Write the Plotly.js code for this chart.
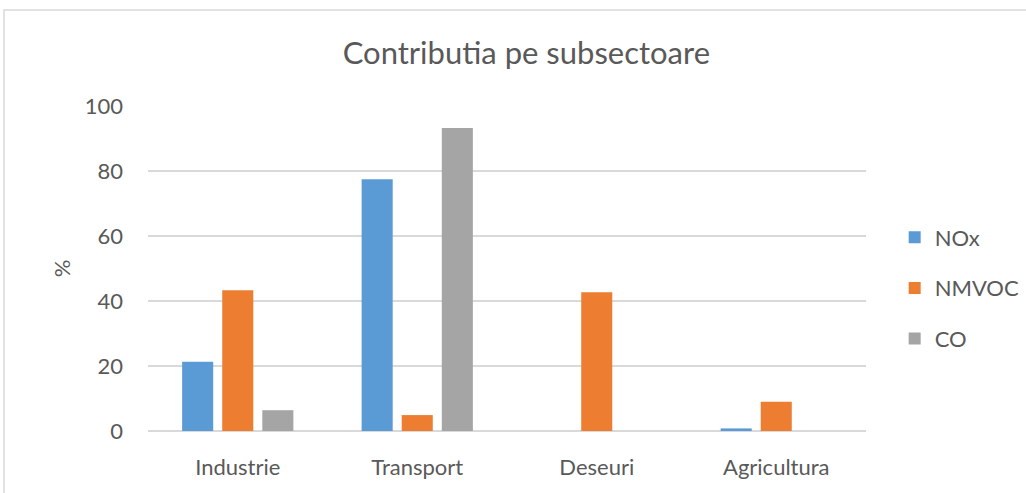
<!DOCTYPE html>
<html>
<head>
<meta charset="utf-8">
<script src="https://cdn.plot.ly/plotly-3.0.1.min.js"></script>
<style>
html,body{margin:0;padding:0;background:#fff;}
#chart{width:1026px;height:493px;}
</style>
</head>
<body>
<div id="chart"></div>
<script>
const categories = ["Industrie", "Transport", "Deseuri", "Agricultura"];
const seriesNames = ["NOx", "NMVOC", "CO"];
const noxValues = [21.3, 77.5, 0, 0.8];
const nmvocValues = [43.3, 4.9, 42.7, 9.0];
const coValues = [6.4, 93.2, 0, 0];
const seriesColors = ["#5b9bd5", "#ed7d31", "#a5a5a5"];
const yTicks = [0, 20, 40, 60, 80, 100];

const allValues = [noxValues, nmvocValues, coValues];
const traces = allValues.map((vals, i) => ({
  type: "bar",
  name: seriesNames[i],
  x: categories,
  y: vals,
  marker: {color: seriesColors[i], line: {width: 0}},
  legendgroup: "g" + i,
  hoverinfo: "x+y+name"
}));

const font = "Lato, 'Open Sans', sans-serif";
const layout = {
  width: 1026,
  height: 493,
  margin: {l: 148, r: 160, t: 106, b: 62, autoexpand: false},
  paper_bgcolor: "#ffffff",
  plot_bgcolor: "#ffffff",
  barmode: "group",
  bargap: 0.33,
  bargroupgap: 0.225,
  title: {
    text: "Contributia pe subsectoare",
    font: {family: font, size: 31, color: "#595959"},
    x: 0.513, xanchor: "center",
    y: 0.893, yanchor: "middle"
  },
  xaxis: {
    type: "category",
    tickfont: {family: font, size: 22, color: "#595959"},
    showgrid: false,
    showline: false,
    zeroline: false,
    ticks: "",
    ticklabelstandoff: 21
  },
  yaxis: {
    range: [0, 100],
    tickvals: yTicks,
    ticktext: yTicks.map(String),
    tickfont: {family: font, size: 22, color: "#595959"},
    showgrid: true,
    gridcolor: "#d9d9d9",
    gridwidth: 1.5,
    zeroline: true,
    zerolinecolor: "#d9d9d9",
    zerolinewidth: 1.5,
    showline: false,
    ticks: "",
    ticklabelstandoff: 24,
    title: {text: "%", font: {family: font, size: 22, color: "#595959"}, standoff: 8}
  },
  legend: {
    xref: "container",
    x: 0.872, xanchor: "left",
    y: 0.44, yanchor: "middle",
    font: {family: font, size: 22, color: "#595959"},
    traceorder: "grouped",
    tracegroupgap: 19,
    itemwidth: 30,
    bgcolor: "rgba(0,0,0,0)"
  },
  shapes: [{
    type: "rect",
    xref: "paper", yref: "paper",
    x0: -0.2006, x1: 1.3, y0: -0.3, y1: 1.2954,
    line: {color: "#d9d9d9", width: 1.5},
    fillcolor: "rgba(0,0,0,0)",
    layer: "below"
  }],
  showlegend: true
};

Plotly.newPlot("chart", traces, layout, {displayModeBar: false, staticPlot: true});
</script>
</body>
</html>
